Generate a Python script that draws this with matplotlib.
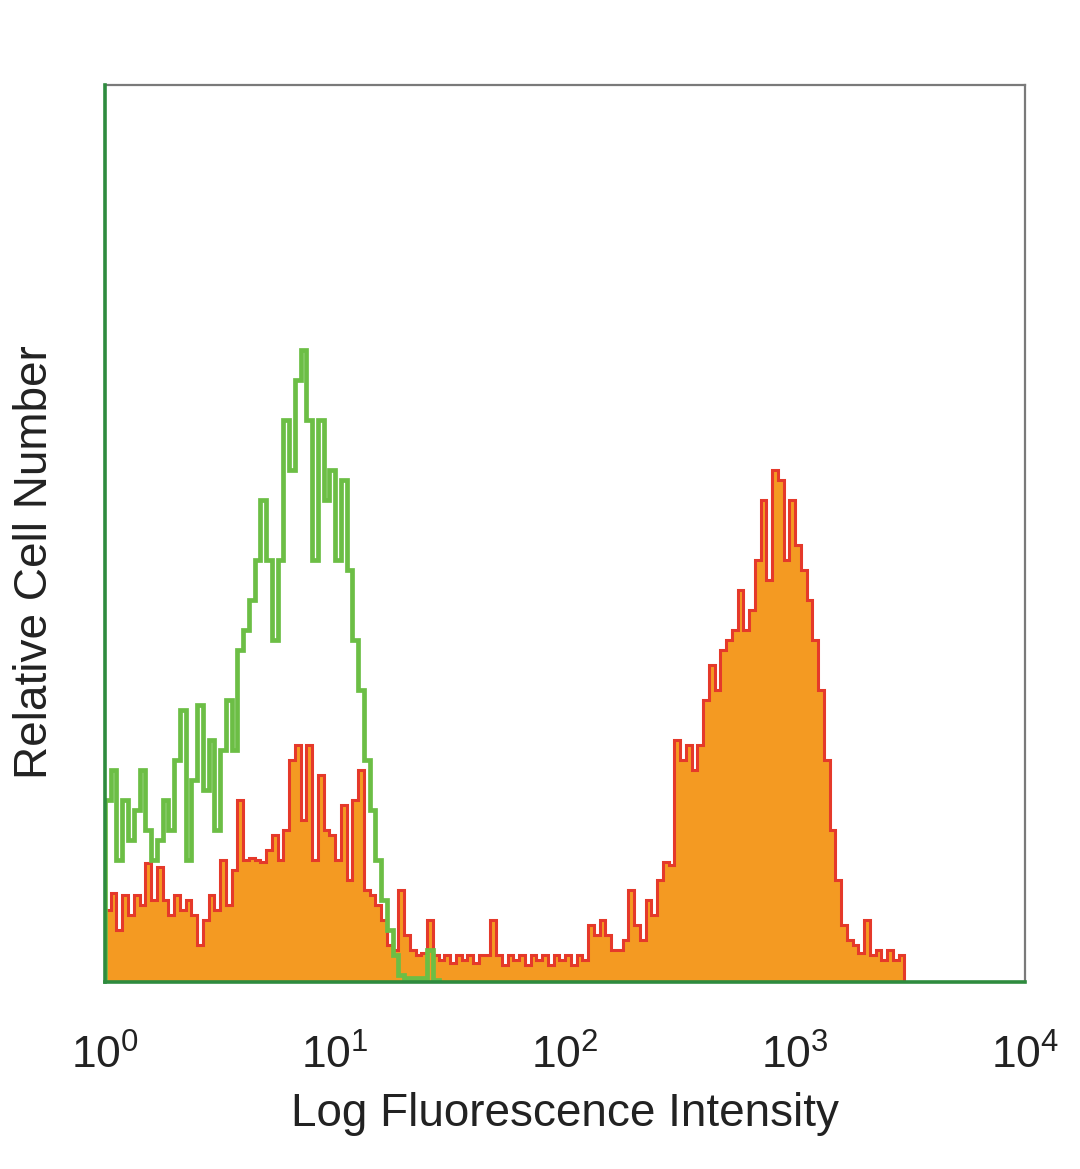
import numpy as np
import matplotlib
matplotlib.use("Agg")
import matplotlib.pyplot as plt

plt.rcParams['font.family'] = ['Liberation Sans', 'DejaVu Sans']
plt.rcParams['mathtext.fontset'] = 'custom'
plt.rcParams['mathtext.rm'] = 'Liberation Sans'
plt.rcParams['mathtext.it'] = 'Liberation Sans'

# histogram channel width in decades (log10 units)
bin_width_decades = 0.025

# Isotype control (green outline), relative cell number per channel from 10^0
control_counts = [20.3, 23.6, 13.6, 20.3, 15.8, 19.2, 23.6, 16.9, 13.6, 15.8,
                  20.3, 16.9, 24.7, 30.3, 13.6, 22.5, 30.9, 21.4, 27.0, 16.9,
                  25.9, 31.4, 25.9, 37.0, 39.2, 42.6, 47.0, 53.7, 47.0, 38.1,
                  47.0, 62.7, 57.1, 67.1, 70.5, 62.7, 47.0, 62.7, 53.7, 57.1,
                  47.0, 56.0, 45.9, 38.1, 32.6, 24.7, 19.2, 13.6, 9.1, 5.8,
                  3.0, 0.8, 0.4, 0.4, 0.4, 0.4, 3.6, 0.2]

# Stained sample (orange fill, red outline)
stained_counts = [8.0, 9.9, 5.8, 9.7, 7.5, 9.7, 8.6, 13.3, 9.1, 12.8,
                  9.1, 7.5, 9.7, 8.0, 9.1, 7.5, 4.1, 6.9, 9.7, 8.0,
                  13.6, 8.6, 12.5, 20.3, 13.6, 13.8, 13.6, 13.4, 14.7, 16.4,
                  13.6, 16.9, 24.7, 26.4, 18.1, 26.4, 13.6, 23.1, 16.9, 16.4,
                  13.6, 19.7, 11.4, 20.3, 23.6, 10.3, 9.7, 8.6, 6.9, 4.1,
                  3.6, 10.3, 5.2, 3.6, 3.0, 3.2, 6.9, 3.0, 2.5, 3.0,
                  2.1, 3.0, 2.5, 3.0, 2.1, 3.0, 3.0, 6.9, 3.0, 1.9,
                  3.0, 2.5, 3.0, 1.9, 3.0, 2.5, 3.0, 1.9, 3.0, 2.5,
                  3.0, 1.9, 3.0, 2.5, 6.4, 5.2, 6.9, 5.2, 3.6, 3.6,
                  4.7, 10.3, 6.4, 4.7, 9.1, 7.5, 11.4, 13.4, 13.0, 27.0,
                  24.7, 26.4, 23.6, 26.4, 31.4, 35.3, 32.6, 37.0, 38.1, 39.2,
                  43.7, 39.2, 41.5, 47.0, 53.7, 44.8, 57.1, 56.0, 47.0, 53.7,
                  48.7, 45.9, 42.6, 38.1, 32.6, 24.7, 16.9, 11.4, 6.4, 4.7,
                  4.1, 3.2, 6.9, 3.0, 3.6, 2.5, 3.6, 2.5, 3.0]

tick_exponents = [0, 1, 2, 3, 4]
x_label = "Log Fluorescence Intensity"
y_label = "Relative Cell Number"

control_edges = 10 ** (np.arange(len(control_counts) + 1) * bin_width_decades)
stained_edges = 10 ** (np.arange(len(stained_counts) + 1) * bin_width_decades)

fig = plt.figure(figsize=(10.8, 11.69), dpi=100)
ax = fig.add_axes([105 / 1080, 1 - 982 / 1169, 920 / 1080, 897 / 1169])

ax.stairs(stained_counts, stained_edges, fill=True, color='#F49A22', zorder=2)
ax.stairs(stained_counts, stained_edges, color='#E5392A', linewidth=2.2, zorder=3)
ax.stairs(control_counts, control_edges, color='#6CBE45', linewidth=3.4, zorder=4)

ax.set_xscale('log')
ax.set_xlim(1, 1e4)
ax.set_ylim(0, 100)
ax.set_xticks([10 ** e for e in tick_exponents])
ax.set_xticklabels([r'$\mathregular{10^{%d}}$' % e for e in tick_exponents])
ax.xaxis.set_minor_locator(matplotlib.ticker.NullLocator())
ax.set_yticks([])
ax.tick_params(axis='x', length=0, pad=38, labelsize=32, labelcolor='#222222')

for side in ['top', 'right']:
    ax.spines[side].set_color('#7a7a7a')
    ax.spines[side].set_linewidth(1.6)
for side in ['left', 'bottom']:
    ax.spines[side].set_color('#2E8B3E')
    ax.spines[side].set_linewidth(2.6)
    ax.spines[side].set_zorder(5)

ax.set_xlabel(x_label, fontsize=33, color='#222222', labelpad=10)
fig.text(35 / 1080, 1 - 562 / 1169, y_label, rotation=90, fontsize=33,
         color='#222222', ha='center', va='center')

fig.savefig('out.png', dpi=100)
